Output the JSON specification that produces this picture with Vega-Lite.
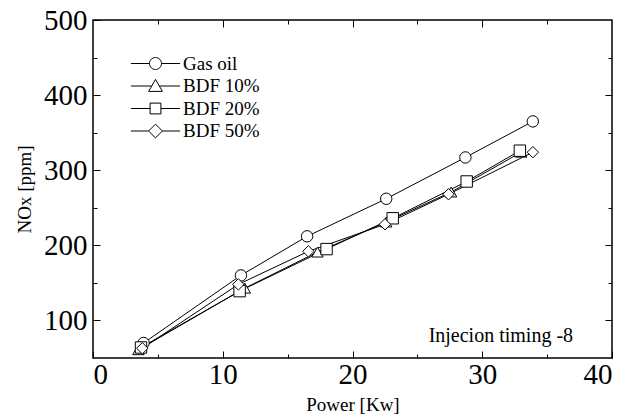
{
  "$schema": "https://vega.github.io/schema/vega-lite/v6.json",
  "width": 519,
  "height": 338,
  "autosize": {"type": "none"},
  "padding": {"left": 93, "top": 20, "right": 17, "bottom": 59},
  "background": "white",
  "config": {
    "font": "Liberation Serif",
    "view": {"stroke": "black", "strokeWidth": 1.5},
    "axis": {
      "grid": false,
      "domain": false,
      "tickColor": "black",
      "tickWidth": 1,
      "labelColor": "black",
      "titleColor": "black",
      "labelFont": "Liberation Serif",
      "titleFont": "Liberation Serif",
      "titleFontWeight": "normal"
    }
  },
  "data": {
    "values": [
      {"series": "Gas oil", "power": 3.9, "nox": 70},
      {"series": "Gas oil", "power": 11.4, "nox": 160},
      {"series": "Gas oil", "power": 16.5, "nox": 212},
      {"series": "Gas oil", "power": 22.6, "nox": 262},
      {"series": "Gas oil", "power": 28.7, "nox": 317},
      {"series": "Gas oil", "power": 33.9, "nox": 365},
      {"series": "BDF 10%", "power": 3.5, "nox": 61},
      {"series": "BDF 10%", "power": 11.7, "nox": 143},
      {"series": "BDF 10%", "power": 17.3, "nox": 191},
      {"series": "BDF 10%", "power": 22.6, "nox": 231},
      {"series": "BDF 10%", "power": 27.6, "nox": 271},
      {"series": "BDF 10%", "power": 33.0, "nox": 324},
      {"series": "BDF 20%", "power": 3.7, "nox": 64},
      {"series": "BDF 20%", "power": 11.3, "nox": 139},
      {"series": "BDF 20%", "power": 18.0, "nox": 195},
      {"series": "BDF 20%", "power": 23.1, "nox": 236},
      {"series": "BDF 20%", "power": 28.8, "nox": 285},
      {"series": "BDF 20%", "power": 32.9, "nox": 326},
      {"series": "BDF 50%", "power": 3.8, "nox": 63},
      {"series": "BDF 50%", "power": 11.2, "nox": 148},
      {"series": "BDF 50%", "power": 16.6, "nox": 192},
      {"series": "BDF 50%", "power": 22.5, "nox": 228},
      {"series": "BDF 50%", "power": 27.4, "nox": 268},
      {"series": "BDF 50%", "power": 33.9, "nox": 324}
    ]
  },
  "layer": [
    {
      "mark": {"type": "line", "color": "black", "strokeWidth": 1},
      "encoding": {
        "x": {"field": "power", "type": "quantitative", "scale": {"domain": [0, 40], "nice": false, "zero": false},
          "axis": {"orient": "bottom", "values": [0, 10, 20, 30, 40], "tickSize": -7, "labelFontSize": 29, "labelPadding": 9, "title": "Power [Kw]", "titleFontSize": 19, "titlePadding": 6}},
        "y": {"field": "nox", "type": "quantitative", "scale": {"domain": [50, 500], "nice": false, "zero": false},
          "axis": {"orient": "left", "values": [100, 200, 300, 400, 500], "tickSize": -7, "labelFontSize": 29, "labelPadding": 13, "title": "NOx [ppm]", "titleFontSize": 19, "titlePadding": 9}},
        "detail": {"field": "series"},
        "order": {"field": "power"}
      }
    },
    {
      "mark": {"type": "point", "filled": true, "fill": "white", "stroke": "black", "strokeWidth": 1, "size": 130, "opacity": 1},
      "encoding": {
        "x": {"field": "power", "type": "quantitative", "scale": {"domain": [0, 40], "nice": false, "zero": false},
          "axis": {"orient": "bottom", "values": [5, 15, 25, 35], "tickSize": -4, "labels": false, "title": null}},
        "y": {"field": "nox", "type": "quantitative", "scale": {"domain": [50, 500], "nice": false, "zero": false},
          "axis": {"orient": "left", "values": [150, 250, 350, 450], "tickSize": -4, "labels": false, "title": null}},
        "shape": {"field": "series", "type": "nominal",
          "scale": {"domain": ["Gas oil", "BDF 10%", "BDF 20%", "BDF 50%"], "range": ["circle", "triangle-up", "square", "diamond"]},
          "legend": null}
      }
    },
    {
      "data": {"values": [{"label": "Injecion timing -8"}]},
      "mark": {"type": "text", "fontSize": 20, "align": "right", "baseline": "middle", "color": "black", "font": "Liberation Serif"},
      "encoding": {
        "text": {"field": "label"},
        "x": {"datum": 37.0, "type": "quantitative", "scale": {"domain": [0, 40], "nice": false, "zero": false},
          "axis": {"orient": "top", "values": [10, 20, 30], "tickSize": -7, "labels": false, "title": null}},
        "y": {"datum": 79, "type": "quantitative", "scale": {"domain": [50, 500], "nice": false, "zero": false},
          "axis": {"orient": "right", "values": [100, 200, 300, 400], "tickSize": -7, "labels": false, "title": null}}
      }
    },
    {
      "mark": {"type": "point", "filled": false, "stroke": "black", "strokeWidth": 1, "opacity": 0},
      "encoding": {
        "x": {"field": "power", "type": "quantitative", "scale": {"domain": [0, 40], "nice": false, "zero": false},
          "axis": {"orient": "top", "values": [5, 15, 25, 35], "tickSize": -4, "labels": false, "title": null}},
        "y": {"field": "nox", "type": "quantitative", "scale": {"domain": [50, 500], "nice": false, "zero": false},
          "axis": {"orient": "right", "values": [150, 250, 350, 450], "tickSize": -4, "labels": false, "title": null}},
        "shape": {"field": "series", "type": "nominal",
          "scale": {"domain": ["Gas oil", "BDF 10%", "BDF 20%", "BDF 50%"],
            "range": [
              "M-4.1,0L-1,0M1,0L4.1,0M-1,0A1,1 0 1,0 1,0A1,1 0 1,0 -1,0Z",
              "M-4.1,0L-0.63,0M0.63,0L4.1,0M0,-1.1L1.15,0.9L-1.15,0.9Z",
              "M-4.1,0L-0.9,0M0.9,0L4.1,0M-0.9,-0.9L0.9,-0.9L0.9,0.9L-0.9,0.9Z",
              "M-4.1,0L-1.15,0M1.15,0L4.1,0M0,-1.15L1.15,0L0,1.15L-1.15,0Z"
            ]},
          "legend": {
            "title": null,
            "orient": "none",
            "legendX": 53,
            "legendY": 34,
            "padding": 0,
            "symbolSize": 144,
            "symbolFillColor": "white",
            "symbolStrokeColor": "black",
            "symbolStrokeWidth": 1,
            "symbolOpacity": 1,
            "labelFont": "Liberation Serif",
            "labelFontSize": 19,
            "labelColor": "black",
            "labelOffset": 18,
            "rowPadding": 2.5,
            "encode": {
              "symbols": {
                "update": {
                  "fill": {"value": "white"},
                  "stroke": {"value": "black"},
                  "strokeWidth": {"value": 1},
                  "opacity": {"value": 1},
                  "fillOpacity": {"value": 1},
                  "strokeOpacity": {"value": 1}
                }
              }
            }
          }
        }
      }
    }
  ],
  "resolve": {
    "axis": {"x": "independent", "y": "independent"},
    "scale": {"shape": "independent"}
  }
}
